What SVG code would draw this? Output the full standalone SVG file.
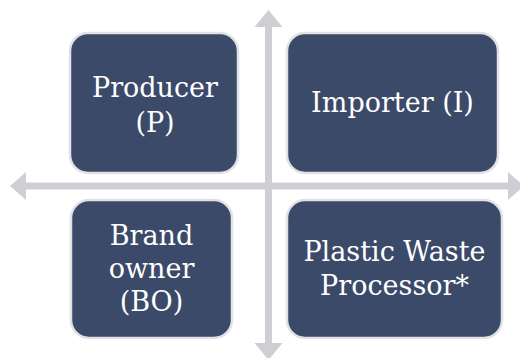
<svg xmlns="http://www.w3.org/2000/svg" width="520" height="358" viewBox="0 0 520 358">
  <style>
    .axis { fill: #cdcfd4; }
    .box { fill: #3b4a69; stroke: #e1e2e5; stroke-width: 2.5; }
    .label { fill: #ffffff; font-family: "DejaVu Serif", "Liberation Serif", serif; font-size: 27px; text-anchor: middle; }
  </style>
  <rect width="520" height="358" fill="#ffffff"/>
  <g id="connectors">
    <!-- vertical double arrow -->
    <polygon class="axis" points="268.5,10 282.5,27 272,27 272,343 282.5,343 268.5,360 254.5,343 265,343 265,27 254.5,27"/>
    <!-- horizontal double arrow -->
    <polygon class="axis" points="10,186 26,172 26,182.5 508,182.5 508,172 524,186 508,200 508,189.5 26,189.5 26,200"/>
  </g>
  <g id="producer">
    <rect class="box" x="70" y="33" width="168" height="140" rx="18"/>
    <text class="label" x="155" y="97">Producer</text>
    <text class="label" x="155" y="132">(P)</text>
  </g>
  <g id="importer">
    <rect class="box" x="287" y="33" width="211" height="140" rx="18"/>
    <text class="label" x="392.5" y="112">Importer (I)</text>
  </g>
  <g id="brand-owner">
    <rect class="box" x="71" y="200" width="161" height="138" rx="18"/>
    <text class="label" x="151.5" y="245">Brand</text>
    <text class="label" x="151.5" y="278">owner</text>
    <text class="label" x="151.5" y="311">(BO)</text>
  </g>
  <g id="plastic-waste-processor">
    <rect class="box" x="287" y="200" width="215" height="138" rx="18"/>
    <text class="label" x="394.5" y="261">Plastic Waste</text>
    <text class="label" x="394.5" y="295">Processor*</text>
  </g>
</svg>
